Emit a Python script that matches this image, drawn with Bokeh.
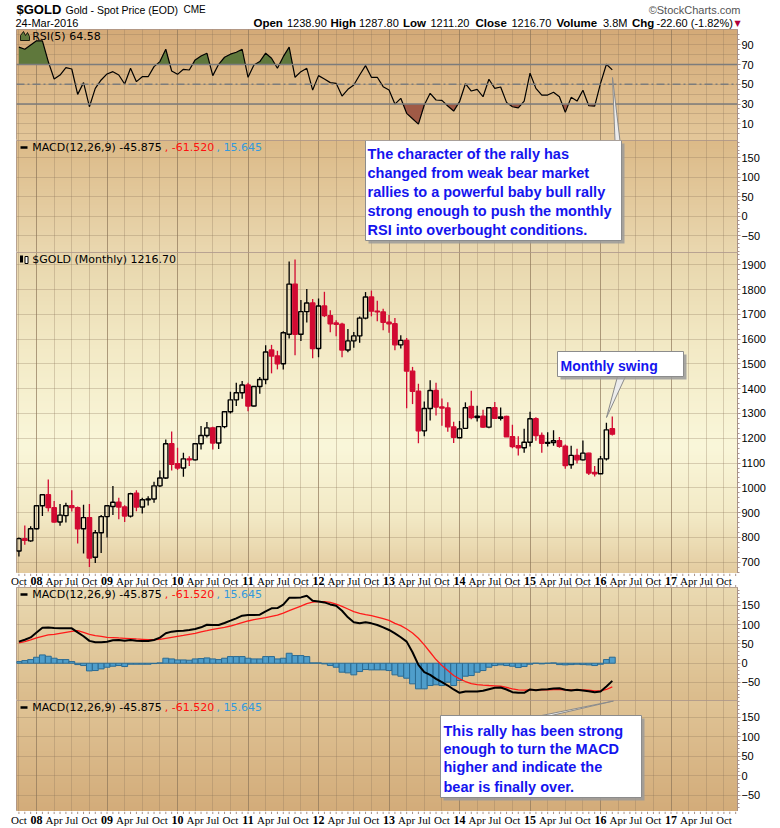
import numpy as np
from bokeh.plotting import figure
from bokeh.models import (Range1d, ColumnDataSource, FixedTicker, Grid, Label, LabelSet,
                          BoxAnnotation, PolyAnnotation, Span)
from bokeh.layouts import column
from bokeh.embed import file_html
from bokeh.resources import INLINE

# ---------------- data (monthly, Oct 2007 .. Mar 2016) ----------------
first_month = "2007-10"
opens = [745, 795, 786, 835, 928, 972, 920, 862, 888, 928, 920, 835, 880, 720, 819, 884, 925, 942, 923, 886,
         978, 923, 952, 955, 1008, 1040, 1178, 1097, 1080, 1117, 1113, 1178, 1211, 1242, 1181, 1247, 1307, 1355, 1384, 1415,
         1330, 1409, 1437, 1556, 1532, 1501, 1620, 1822, 1620, 1711, 1746, 1562, 1734, 1695, 1665, 1660, 1556, 1593, 1613, 1685,
         1770, 1713, 1710, 1668, 1662, 1577, 1595, 1471, 1390, 1230, 1320, 1393, 1326, 1322, 1246, 1202, 1240, 1328, 1284, 1289,
         1245, 1323, 1281, 1288, 1206, 1170, 1162, 1184, 1279, 1211, 1180, 1183, 1190, 1168, 1093, 1131, 1113, 1140, 1062, 1057,
         1117, 1238.9]
highs = [800, 848, 845, 930, 975, 1034, 947, 935, 940, 990, 925, 932, 935, 830, 890, 930, 1007, 960, 930, 980,
         990, 960, 966, 1025, 1070, 1195, 1227, 1162, 1142, 1127, 1180, 1250, 1266, 1247, 1250, 1310, 1388, 1424, 1431, 1424,
         1411, 1447, 1575, 1577, 1553, 1632, 1913, 1921, 1758, 1802, 1762, 1764, 1791, 1717, 1676, 1666, 1641, 1629, 1691, 1790,
         1796, 1755, 1723, 1697, 1685, 1616, 1605, 1488, 1420, 1348, 1434, 1424, 1361, 1345, 1267, 1270, 1345, 1392, 1331, 1315,
         1326, 1346, 1324, 1291, 1255, 1208, 1238, 1307, 1285, 1223, 1224, 1232, 1205, 1175, 1170, 1158, 1191, 1142, 1088, 1129,
         1263, 1287.8]
lows = [723, 770, 783, 832, 886, 905, 860, 847, 860, 905, 775, 735, 681, 697, 737, 800, 890, 873, 862, 880,
        906, 896, 929, 940, 1003, 1036, 1070, 1072, 1045, 1088, 1110, 1155, 1203, 1155, 1157, 1240, 1300, 1330, 1360, 1309,
        1328, 1380, 1418, 1462, 1478, 1478, 1603, 1535, 1593, 1667, 1523, 1527, 1689, 1628, 1612, 1527, 1547, 1565, 1585, 1680,
        1692, 1672, 1636, 1626, 1555, 1562, 1321, 1338, 1180, 1208, 1272, 1292, 1251, 1226, 1181, 1200, 1238, 1277, 1268, 1241,
        1240, 1281, 1272, 1206, 1160, 1131, 1142, 1167, 1190, 1142, 1167, 1170, 1162, 1077, 1077, 1098, 1110, 1052, 1046, 1057,
        1110, 1211.2]
closes = [795, 788, 835, 928, 972, 920, 862, 890, 928, 920, 835, 880, 717, 819, 884, 928, 942, 923, 886, 976,
          923, 952, 955, 1008, 1040, 1178, 1095, 1080, 1117, 1113, 1178, 1211, 1242, 1181, 1247, 1307, 1355, 1384, 1415, 1330,
          1409, 1437, 1548, 1532, 1501, 1626, 1822, 1620, 1711, 1746, 1562, 1734, 1695, 1662, 1660, 1556, 1593, 1613, 1685, 1770,
          1713, 1710, 1668, 1662, 1577, 1595, 1471, 1390, 1230, 1320, 1393, 1326, 1322, 1246, 1204, 1238, 1323, 1284, 1289, 1245,
          1323, 1281, 1286, 1206, 1167, 1162, 1184, 1279, 1211, 1180, 1183, 1190, 1168, 1090, 1131, 1113, 1140, 1060, 1057, 1117,
          1234, 1216.7]
rsi5 = [87.6, 85.5, 89.9, 94, 94, 73, 55.4, 59.4, 66.9, 65.5, 39.8, 51.7, 27.3, 45.9, 54.4, 60.5, 62.8, 59.4, 50.3, 66.2,
        52.7, 57.7, 57.7, 67.9, 73, 85.5, 63.5, 60.1, 65.2, 64.5, 74.7, 78.7, 81.5, 58.8, 70.3, 77.4, 80.5, 82.5, 85.5, 57.1,
        69.6, 73, 81.5, 76.4, 66.2, 78, 87.6, 57.1, 62.8, 66.2, 44.2, 58.8, 55.4, 51.7, 51, 38.1, 44.9, 49.3, 59.4, 68.9,
        57.1, 57.1, 47.6, 44.2, 30, 35.8, 20.6, 15.1, 9.7, 29, 40.9, 34.1, 33.8, 28, 22.9, 32.4, 50.6, 43.2, 44.9, 37.4,
        55.1, 45.9, 47.3, 31.7, 27.3, 26.2, 33, 61.2, 45.9, 39.1, 39.1, 41.9, 37.4, 21.6, 36.8, 33, 43.9, 28.3, 28, 51,
        70.3, 64.58]
macd_line = [56, 61, 67, 80, 92, 93, 91.5, 90.7, 90.7, 90.7, 80, 70, 58, 54.4, 54.4, 56, 59.6, 60.4, 58.7, 60.4,
             58.7, 57.9, 57.9, 60.4, 66.5, 77.7, 82, 83.8, 84.6, 86.4, 89, 93.3, 100, 99.3, 99.3, 104.5, 110.5, 116.6, 123.5, 125.2,
             125.2, 126, 134.7, 142.5, 143.4, 152, 170, 170, 171, 175.3, 162.3, 160.6, 158, 152.8, 149.4, 136.4, 119.2, 106.2, 103.6, 106.2,
             103.6, 99.3, 93.3, 86.4, 77.7, 67.4, 56.1, 28.5, -4.3, -23.3, -30.2, -40.6, -49.2, -57.9, -68.2, -76.9, -73.4, -73.4, -73.4, -71.7,
             -67.4, -63.9, -63, -68.2, -75.1, -76.9, -76.9, -68.2, -70, -68.2, -67.4, -65.6, -64.8, -69.1, -70.8, -69.1, -70.8, -72.5, -75.1, -73.4,
             -60.4, -45.875]
macd_signal = [52.7, 56.1, 60.4, 65.6, 70, 73.4, 75.1, 77.7, 80.3, 82.9, 84.6, 80.3, 75.1, 71.7, 70, 67.4, 66.5, 65.6, 64.8, 63.9,
               63, 62.2, 61.3, 61.3, 62.2, 64.8, 67.4, 70, 72.5, 75.1, 77.7, 81.2, 84.6, 88.1, 90.7, 93.3, 96.7, 101, 105.4, 109.7,
               113.1, 115.7, 118.3, 121.8, 125.2, 130.4, 136.4, 142.5, 148.5, 154.6, 158.9, 159.8, 159.8, 158, 153.7, 147.7, 140.8, 133.9, 129.5, 126,
               123.5, 120, 115.7, 111.4, 103.6, 97.6, 89, 78.6, 64.8, 47.5, 28.5, 9.5, -6, -19, -32, -40.6, -47.5, -52.7, -55.3, -57,
               -57.9, -58.7, -59.6, -63, -66.5, -69.1, -70, -69.1, -69.1, -69.1, -69.1, -68.2, -68.2, -69.1, -69.1, -69.1, -69.1, -70, -71.7, -71.7,
               -68.2, -61.52]
macd_hist = [4.3, 6.9, 9.5, 15.5, 21.6, 18.1, 13, 9.5, 9.5, 4.3, -3.5, -6, -19.9, -19, -14.7, -10.4, -7.8, -6, -8.6, -2.6,
             -2.6, -2.6, -2.6, -0.9, 0.9, 13, 11.2, 8.6, 8.6, 7.8, 11.2, 12.1, 13.8, 11.2, 9.5, 13, 17.3, 17.3, 17.3, 13,
             11.2, 11.2, 17.3, 17.3, 11.2, 13, 25.9, 19.9, 19.9, 17.3, 0.9, 0.9, -1.7, -6, -10.4, -23.3, -25, -30.2, -21.6, -16.4,
             -17.3, -17.3, -17.3, -19, -30.2, -33.7, -38.9, -53.5, -66.5, -66.5, -57.9, -56.1, -57.9, -49.2, -57.9, -44.9, -33.7, -32, -23.3, -19,
             -10.4, -6, -4.3, -6, -7.8, -11.2, -8.6, -2.6, 0, -1.7, 0, 0.9, -3.5, -4.3, -3.5, -2.6, -3.5, -4.3, -6, -2.6,
             9.5, 15.645]

tick_pos = list(range(0, 121, 3))
tick_labels = ["Oct", "08", "Apr", "Jul", "Oct", "09", "Apr", "Jul", "Oct", "10", "Apr", "Jul",
               "Oct", "11", "Apr", "Jul", "Oct", "12", "Apr", "Jul", "Oct", "13", "Apr", "Jul",
               "Oct", "14", "Apr", "Jul", "Oct", "15", "Apr", "Jul", "Oct", "16", "Apr", "Jul",
               "Oct", "17", "Apr", "Jul", "Oct"]
rsi_ticks = [10, 30, 50, 70, 90]
price_ticks = [700, 800, 900, 1000, 1100, 1200, 1300, 1400, 1500, 1600, 1700, 1800, 1900]
macd_ticks = [-50, 0, 50, 100, 150]

n = len(closes)
assert len(opens) == len(highs) == len(lows) == n == len(rsi5) == len(macd_line) == len(macd_signal) == len(macd_hist)
assert len(tick_pos) == len(tick_labels)
xm = np.arange(n)

# ---------------- layout / style ----------------
W = 780
FL, FR = 16, 43
PXM = 5.875
XS = -0.41
XE = XS + (W - FL - FR) / PXM
xr = Range1d(XS, XE)
month_ticks = list(range(0, int(XE) + 1))

RED = "#D20A32"
TXT_BLUE = "#1414EE"
OUTLINE = "#A8928A"
GRID = "#8C7458"
FONT = "Liberation Sans"
VFONT = "DejaVu Sans"

year_ticks = [t for t, l in zip(tick_pos, tick_labels) if l.isdigit()]


def X(px):
    return XS + (px - FL) / PXM


def full_width_figure(h, x_lo_px, x_hi_px, y_range):
    """Figure whose frame spans the whole page width (not aligned to the panels)."""
    f = figure(width=W, height=h, output_backend="svg", toolbar_location=None, title=None,
               x_axis_location=None, y_axis_location=None, min_border=0,
               min_border_top=0, min_border_bottom=0,
               outline_line_color=None, background_fill_color="white", border_fill_color="white")
    ok = True
    try:
        f.frame_align = False
    except Exception:
        ok = False
    if ok:
        f.min_border_left = 0
        f.min_border_right = 0
        lo, hi = x_lo_px(0), x_hi_px(W)
    else:
        f.min_border_left = FL
        f.min_border_right = FR
        lo, hi = x_lo_px(FL), x_hi_px(W - FR)
    f.x_range = Range1d(lo, hi)
    f.y_range = y_range
    for g in f.grid:
        g.visible = False
    return f


def make_panel(top, bot, vtop, vbot, ticks, minor, hticks, stops):
    h = bot - top
    p = figure(width=W, height=h, x_range=xr, y_range=Range1d(vbot, vtop),
               output_backend="svg", toolbar_location=None, title=None,
               x_axis_location=None, y_axis_location="right",
               min_border_left=FL, min_border_right=FR, min_border_top=0, min_border_bottom=0,
               border_fill_color="white", background_fill_color="white",
               outline_line_color=OUTLINE, outline_line_width=1)
    for g in p.xgrid:
        g.visible = False
    for g in p.ygrid:
        g.visible = False
    ax = p.yaxis[0]
    ax.ticker = FixedTicker(ticks=ticks, minor_ticks=minor)
    ax.major_label_text_font = FONT
    ax.major_label_text_font_size = "11px"
    ax.major_label_text_color = "black"
    ax.axis_line_color = OUTLINE
    ax.major_tick_line_color = OUTLINE
    ax.minor_tick_line_color = OUTLINE
    ax.major_tick_out = 3
    ax.major_tick_in = 0
    ax.minor_tick_out = 2
    ax.minor_tick_in = 0
    ax.major_label_standoff = 1

    # vertical gradient background
    H = 160
    t = 1 - (np.arange(H) + 0.5) / H
    pos = [s[0] for s in stops]
    img = np.zeros((H, 2), dtype=np.uint32)
    v = img.view(dtype=np.uint8).reshape((H, 2, 4))
    for c in range(3):
        col = np.interp(t, pos, [s[1][c] for s in stops])
        v[:, :, c] = col[:, None].astype(np.uint8)
    v[:, :, 3] = 255
    p.image_rgba(image=[img], x=XS, y=vbot, dw=XE - XS, dh=vtop - vbot, level="image")

    p.add_layout(Grid(dimension=1, ticker=FixedTicker(ticks=hticks),
                      grid_line_color=GRID, grid_line_alpha=0.3))
    p.add_layout(Grid(dimension=0, ticker=FixedTicker(ticks=tick_pos),
                      grid_line_color=GRID, grid_line_alpha=0.3))
    p.add_layout(Grid(dimension=0, ticker=FixedTicker(ticks=year_ticks),
                      grid_line_color=GRID, grid_line_alpha=0.55))

    def Y(py):
        return vtop - (py - top) * (vtop - vbot) / h
    return p, Y


def lab(p, Y, px, py, text, color="black", size="11px", bold=False, font=VFONT, align="left"):
    p.add_layout(Label(x=X(px), y=Y(py), text=text, text_color=color, text_font_size=size,
                       text_font_style="bold" if bold else "normal", text_font=font,
                       text_align=align, text_baseline="middle"))


def callout(p, Y, l, t, r, b):
    p.add_layout(BoxAnnotation(left=X(l + 3), right=X(r + 3), top=Y(t + 3), bottom=Y(b + 3),
                               fill_color="#9A9A9A", fill_alpha=0.85, line_color=None))
    p.add_layout(BoxAnnotation(left=X(l), right=X(r), top=Y(t), bottom=Y(b),
                               fill_color="white", fill_alpha=1, line_color="#8C8C8C",
                               line_alpha=1, line_width=1))


def pointer(p, Y, pts):
    p.add_layout(PolyAnnotation(xs=[X(a) for a, _ in pts], ys=[Y(b) for _, b in pts],
                                fill_color="#ECECEC", fill_alpha=1, line_color="#8A8A8A",
                                line_alpha=1, line_width=1))


def macd_legend(p, Y, py):
    p.add_layout(BoxAnnotation(left=X(20), right=X(27), top=Y(py - 1.2), bottom=Y(py + 1.2),
                               fill_color="black", fill_alpha=1, line_color=None))
    lab(p, Y, 31.7, py, "MACD(12,26,9) -45.875")
    lab(p, Y, 164.3, py, ", -61.520", color="#FF1010")
    lab(p, Y, 216, py, ", 15.645", color="#3399DD")


# ---------------- header (data x = page pixel, y = page pixel from top) ----------------
hdr = full_width_figure(29, lambda a: a, lambda b: b, Range1d(29, 0))
ROW1, ROW2 = 8.8, 22.3
header_items = [
    ("$GOLD", 16, ROW1, "13px", "bold", "black", "left"),
    ("Gold - Spot Price (EOD)", 65, ROW1 + 0.3, "10.5px", "normal", "black", "left"),
    ("CME", 183, ROW1 + 0.5, "10px", "normal", "black", "left"),
    ("\u00a9StockCharts.com", 740, ROW1 + 0.3, "11px", "normal", "#555555", "right"),
    ("24-Mar-2016", 15, ROW2, "11px", "normal", "black", "left"),
    ("Open", 253, ROW2, "11.5px", "bold", "black", "left"),
    ("1238.90", 286.5, ROW2, "11px", "normal", "black", "left"),
    ("High", 330, ROW2, "11.5px", "bold", "black", "left"),
    ("1287.80", 358.5, ROW2, "11px", "normal", "black", "left"),
    ("Low", 402.5, ROW2, "11.5px", "bold", "black", "left"),
    ("1211.20", 430, ROW2, "11px", "normal", "black", "left"),
    ("Close", 475, ROW2, "11.5px", "bold", "black", "left"),
    ("1216.70", 511, ROW2, "11px", "normal", "black", "left"),
    ("Volume", 556, ROW2, "11.5px", "bold", "black", "left"),
    ("3.8M", 602.5, ROW2, "11px", "normal", "black", "left"),
    ("Chg", 631.5, ROW2, "11.5px", "bold", "black", "left"),
    ("-22.60 (-1.82%)", 656, ROW2, "11px", "normal", "black", "left"),
    ("\u25bc", 737, ROW2 + 0.5, "8px", "normal", "#B0003A", "center"),
]
for txt, hx, hy, sz, st, colr, al in header_items:
    hdr.add_layout(Label(x=hx, y=hy, text=txt, text_font=FONT if txt != "\u25bc" else VFONT,
                         text_font_size=sz, text_font_style=st, text_color=colr,
                         text_align=al, text_baseline="middle"))

# ---------------- RSI panel ----------------
p1, Y1 = make_panel(29, 140, 105.5, -6.9, rsi_ticks, list(range(0, 101, 5)), list(range(0, 101, 10)),
                    [(0, (212, 170, 120)), (1, (228, 200, 155))])


def with_crossings(x, y, level):
    xs, ys = [x[0]], [y[0]]
    for i in range(1, len(x)):
        a, b = y[i - 1], y[i]
        if (a - level) * (b - level) < 0:
            f = (level - a) / (b - a)
            xs.append(x[i - 1] + f * (x[i] - x[i - 1]))
            ys.append(level)
        xs.append(x[i])
        ys.append(y[i])
    return np.array(xs, dtype=float), np.array(ys, dtype=float)


xa, ya = with_crossings(xm, rsi5, 70)
p1.varea(x=xa, y1=np.full_like(xa, 70.0), y2=np.maximum(ya, 70), fill_color="#5F783C")
xb, yb = with_crossings(xm, rsi5, 30)
p1.varea(x=xb, y1=np.full_like(xb, 30.0), y2=np.minimum(yb, 30), fill_color="#A05A46")
for lvl, dash in ((70, "solid"), (30, "solid"), (50, "8 3 2 3")):
    p1.add_layout(Span(location=lvl, dimension="width", line_color="#7C7C7C", line_width=1.4,
                       line_dash=dash))
p1.line(xm, rsi5, line_color="black", line_width=1.2)
p1.add_layout(PolyAnnotation(xs=[X(20), X(20), X(23), X(25), X(27), X(29), X(29)],
                             ys=[Y1(40), Y1(35), Y1(31), Y1(35), Y1(32), Y1(36), Y1(40)],
                             fill_color="#5F783C", fill_alpha=1, line_color="black", line_alpha=1,
                             line_width=0.8))
lab(p1, Y1, 31.7, 35.5, "RSI(5) 64.58")
pointer(p1, Y1, [(612, 77), (614.5, 140.5), (619.5, 140.5)])

# ---------------- empty MACD panel (upper) ----------------
p2, Y2 = make_panel(140, 252, 194.4, -92.8, macd_ticks, list(range(-90, 200, 10)), macd_ticks,
                    [(0, (220, 186, 136)), (1, (234, 216, 176))])
macd_legend(p2, Y2, 147)
callout(p2, Y2, 365, 140, 621, 240)
for py, line in zip([153.3, 172.7, 191.7, 210, 229.3],
                    ["The character of the rally has", "changed from weak bear market",
                     "rallies to a powerful baby bull rally", "strong enough to push the monthly",
                     "RSI into overbought conditions."]):
    lab(p2, Y2, 367, py, line, color=TXT_BLUE, size="14.5px", bold=True, font=FONT)

# ---------------- price panel ----------------
p3, Y3 = make_panel(252, 573, 1949.6, 654.4, price_ticks, list(range(660, 1950, 20)), price_ticks,
                    [(0, (232, 214, 172)), (0.3, (243, 234, 198)), (0.6, (250, 247, 218)),
                     (0.82, (243, 234, 198)), (1, (228, 204, 160))])
o = np.array(opens, float)
c = np.array(closes, float)
prev = np.concatenate([[c[0]], c[:-1]])
colors = ["black" if (i == 0 or c[i] >= prev[i]) else RED for i in range(n)]
falpha = [0.0 if c[i] >= o[i] else 1.0 for i in range(n)]
src = ColumnDataSource(dict(x=xm, hi=highs, lo=lows, top=np.maximum(o, c), bot=np.minimum(o, c),
                            col=colors, fa=falpha))
p3.segment(x0="x", y0="hi", x1="x", y1="top", line_color="col", line_width=1.3, source=src)
p3.segment(x0="x", y0="bot", x1="x", y1="lo", line_color="col", line_width=1.3, source=src)
p3.vbar(x="x", width=0.74, top="top", bottom="bot", fill_color="col", fill_alpha="fa",
        line_color="col", line_width=1.4, source=src)
p3.add_layout(BoxAnnotation(left=X(19.5), right=X(22.5), top=Y3(255), bottom=Y3(262),
                            fill_color="black", fill_alpha=1, line_color=None))
p3.add_layout(BoxAnnotation(left=X(24.5), right=X(27.5), top=Y3(256), bottom=Y3(263),
                            fill_color="white", fill_alpha=1, line_color="black", line_alpha=1))
lab(p3, Y3, 31.7, 259, "$GOLD (Monthly) 1216.70")
pointer(p3, Y3, [(606, 417), (617, 376), (625, 376)])
callout(p3, Y3, 557, 351, 683, 376)
lab(p3, Y3, 560, 365, "Monthly swing", color=TXT_BLUE, size="14px", bold=True, font=FONT)


# ---------------- x label strips ----------------
def label_strip(h, tick_top, tick_bottom):
    s = full_width_figure(h, lambda a: X(a), lambda b: X(b), Range1d(0, h))
    src_t = ColumnDataSource(dict(
        x=tick_pos, y=[h / 2.0] * len(tick_pos), t=tick_labels,
        st=["bold" if l.isdigit() else "normal" for l in tick_labels],
        sz=["12px" if l.isdigit() else "11px" for l in tick_labels]))
    s.add_layout(LabelSet(x="x", y="y", text="t", source=src_t, text_font=FONT,
                          text_font_style="st", text_font_size="sz", text_color="black",
                          text_align="center", text_baseline="middle"))
    mt = month_ticks
    if tick_top:
        s.segment(x0=mt, y0=[h] * len(mt), x1=mt, y1=[h - 2.5] * len(mt),
                  line_color=OUTLINE, line_width=1)
    if tick_bottom:
        s.segment(x0=mt, y0=[0] * len(mt), x1=mt, y1=[2.5] * len(mt),
                  line_color=OUTLINE, line_width=1)
    return s


p4 = label_strip(14, True, True)

# ---------------- MACD panel ----------------
p5, Y5 = make_panel(587, 700, 196.7, -96.8, macd_ticks, list(range(-90, 200, 10)), macd_ticks,
                    [(0, (234, 218, 178)), (1, (219, 188, 140))])
p5.vbar(x=xm, width=1.0, top=macd_hist, bottom=0, fill_color="#4F9ECB", line_color="#2B6B93",
        line_width=1)
p5.line(xm, macd_signal, line_color="#FF1A1A", line_width=1.3)
p5.line(xm, macd_line, line_color="black", line_width=2)
macd_legend(p5, Y5, 594)

# ---------------- empty MACD panel (lower) ----------------
p6, Y6 = make_panel(700, 811, 192.8, -91, macd_ticks, list(range(-90, 200, 10)), macd_ticks,
                    [(0, (224, 196, 150)), (1, (211, 172, 122))])
macd_legend(p6, Y6, 707)
pointer(p6, Y6, [(613, 700.5), (541, 715), (551, 715)])
callout(p6, Y6, 440, 715, 641, 797)
for py, line in zip([730, 748.3, 766.7, 786],
                    ["This rally has been strong", "enough to turn the MACD",
                     "higher and indicate the", "bear is finally over."]):
    lab(p6, Y6, 443, py, line, color=TXT_BLUE, size="14.5px", bold=True, font=FONT)

p7 = label_strip(17, True, False)

layout = column(hdr, p1, p2, p3, p4, p5, p6, p7, spacing=0)
open("out.html", "w").write(file_html(layout, INLINE))
